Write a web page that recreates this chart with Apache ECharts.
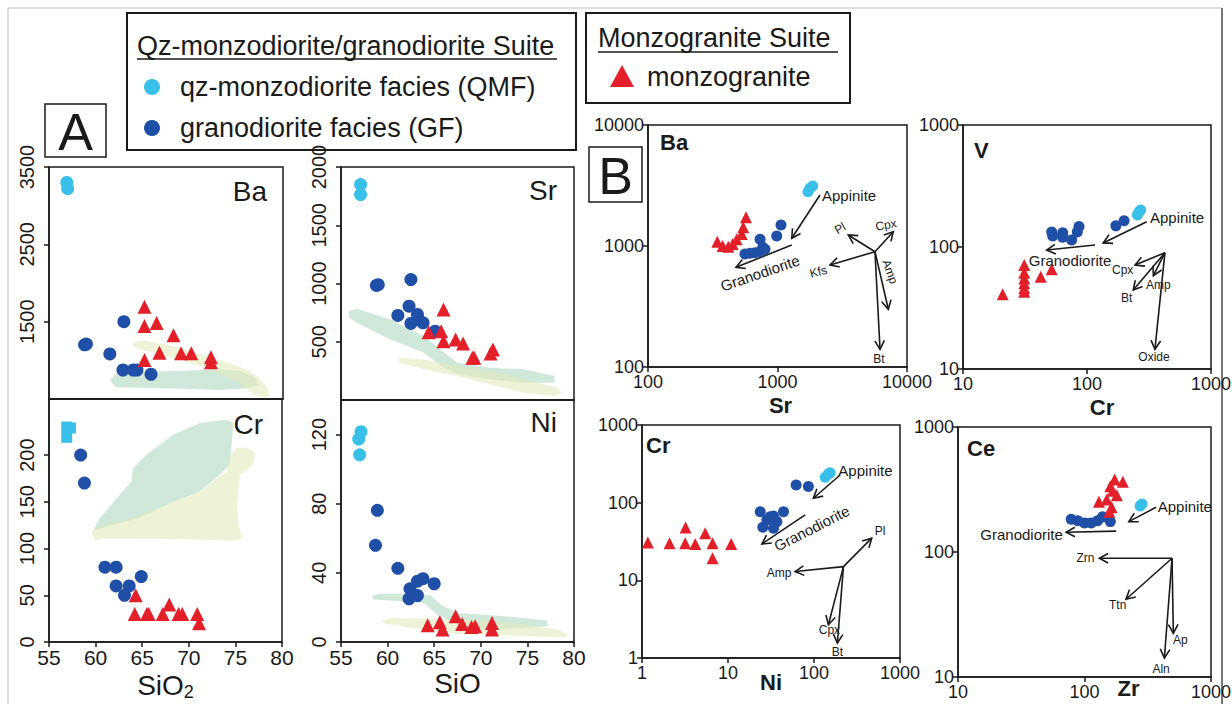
<!DOCTYPE html>
<html><head><meta charset="utf-8">
<script src="https://cdn.jsdelivr.net/npm/echarts@6/dist/echarts.min.js"></script>
<style>html,body{margin:0;padding:0;background:#fff}#c{width:1232px;height:704px}</style>
</head><body><div id="c"></div>
<script>
// ---------- DATA ----------
// Panel A : SiO2 (wt%) vs trace elements (ppm)
const baQMF = [[56.9,3300],[57.0,3220]];
const baGF  = [[58.8,1200],[59.0,1211],[63.0,1500],[61.5,1082],[62.9,875],[64.0,875],[64.4,875],[65.9,820]];
const baMZ  = [[65.2,1694],[65.2,1444],[66.5,1483],[68.3,1324],[66.8,1099],[65.2,1004],[69.1,1091],[70.2,1091],[72.3,1040],[72.3,975]];
const srQMF = [[57.1,1849],[57.1,1763]];
const srGF  = [[58.8,983],[59.0,990],[62.5,1034],[62.3,805],[61.1,726],[63.2,734],[63.3,691],[63.8,663],[62.5,657],[65.1,591]];
const srMZ  = [[66.0,777],[64.4,582],[65.75,591],[66.0,505],[67.3,520],[68.1,485],[69.1,363],[69.3,363],[71.05,400],[71.3,434]];
const crQMF = [[56.9,230],[57.3,229],[56.9,219]];
const crGF  = [[58.4,200],[58.8,170],[61.0,80],[62.2,80],[62.2,60],[63.6,60],[63.1,50],[64.9,70]];
const crMZ  = [[64.3,50],[64.2,30],[65.5,30],[65.7,30],[67.2,30],[67.9,40],[68.9,30],[69.3,30],[70.9,30],[71.1,20]];
const niQMF = [[57.15,121.7],[56.9,117.4],[57.0,108.3]];
const niGF  = [[58.9,76.2],[58.7,55.9],[61.1,42.6],[62.4,30.8],[62.3,25],[63.2,35.2],[63.8,36.6],[63.2,26.9],[65.0,33.7]];
const niMZ  = [[64.3,9.7],[65.6,11.4],[65.9,7.2],[67.3,14.9],[68.0,10.4],[69.0,8.7],[69.4,9.1],[71.2,11],[71.2,7.2]];

// comparison fields (outline vertices, data units)
const baFieldGreen  = [[61.5,746],[62.1,823],[65.8,853],[69.4,866],[73.0,884],[75.5,862],[77.1,767],[77.3,681],[76.2,638],[73.0,616],[69.4,634],[65.8,642],[62.1,651]];
const baFieldYellow = [[64.05,1229],[65.1,1255],[67.6,1198],[69.8,1134],[72.6,1026],[74.8,940],[76.2,875],[77.3,789],[78.4,638],[78.5,539],[78.0,522],[76.9,552],[75.5,703],[73.3,823],[71.2,927],[69.1,1005],[66.9,1082],[64.8,1143],[64.1,1177]];
const srFieldGreen  = [[55.8,762],[56.7,783],[60.3,691],[63.9,548],[65.7,434],[67.5,320],[71.05,277],[74.6,263],[77.9,206],[77.9,148],[74.6,148],[71.05,177],[67.5,220],[65.7,292],[63.9,406],[60.3,520],[56.7,663],[55.9,706]];
const srFieldYellow = [[61.2,342],[61.3,362],[63.9,348],[67.5,292],[71.05,249],[74.6,177],[78.2,106],[78.7,63],[77.9,34],[74.6,63],[71.05,134],[67.5,206],[63.9,263],[61.3,320]];
const crFieldGreen  = [[59.73,118.3],[60.45,132.6],[62.59,157.5],[63.85,171.8],[64.02,186.1],[65.46,200.3],[68.32,221.7],[71.19,234.2],[74.05,237.8],[74.76,234.2],[74.59,211],[74.41,189.6],[73.33,178.9],[71.19,161.1],[67.61,146.8],[64.74,132.6],[61.88,125.5],[60.09,120.1]];
const crFieldYellow = [[59.55,118.3],[60.45,123.7],[64.02,132.6],[67.61,146.8],[71.19,161.1],[74.05,182.5],[74.41,198.5],[75.12,207.5],[76.2,208.2],[77.1,202.1],[76.91,189.6],[75.48,178.9],[75.19,150.4],[75.3,129],[75.67,110.5],[74.76,108.3],[71.19,109.4],[67.61,110.2],[64.02,110.5],[60.45,110.5],[59.91,108.3]];
const niFieldGreen  = [[58.3,26.5],[58.9,27.9],[62.1,27.9],[64.6,27.1],[65.7,21.7],[67.5,16.8],[71.05,15.5],[74.6,13.9],[77.1,12.4],[77.2,9.1],[74.6,8.1],[71.05,7.2],[67.5,10.1],[65.3,15.9],[63.9,22.6],[60.3,24],[58.5,24.6]];
const niFieldYellow = [[59.4,12.4],[60.3,13.9],[63.9,13.5],[67.5,13],[71.05,12.4],[74.6,10.1],[78.2,7.2],[79.5,4.3],[79.0,2.7],[74.6,3.3],[71.05,4.3],[67.5,4.6],[63.9,7.2],[60.3,10.1],[59.5,11.0]];

// Panel B : log-log plots
const bsQMF = [[1780,3000],[1870,3130],[1720,2810]];
const bsGF  = [[561,859],[613,871],[670,881],[733,897],[800,939],[769,975],[733,1136],[986,1210],[1064,1492]];
const bsMZ  = [[343,1086],[377,1000],[417,987],[451,1040],[484,1136],[529,1257],[544,1428],[571,1727]];
const vcQMF = [[264,195],[255,183],[271,201]];
const vcGF  = [[171,149],[199,164],[51.9,133],[52.9,123],[63.7,131],[63.7,120],[75.2,114],[86.2,147],[83.5,133]];
const vcMZ  = [[31.2,71.2],[31.2,61.6],[31.2,55.3],[31.2,50.4],[31.2,45.8],[31.2,43],[20.9,40.9],[42.3,57.1],[51.9,65.6]];
const cnQMF = [[147,234],[135,212],[154,243]];
const cnGF  = [[62,169],[86.1,161],[23.7,76.6],[44.2,76.6],[33.8,67.5],[28.3,60],[37,57],[25.4,48.3],[33.8,46.9],[30.9,66]];
const cnMZ  = [[1.17,30.6],[2.09,30],[3.18,30],[3.21,48],[4.16,29.4],[5.43,40.4],[6.61,30],[6.61,19.3],[10.9,29.4]];
const czQMF = [[275,233],[285,242]];
const czGF  = [[78.5,183],[88.5,178],[100,171],[113,171],[127,178],[139,191],[156,186],[160,175]];
const czMZ  = [[173,380],[201,364],[160,336],[167,309],[180,285],[130,252],[150,263],[164,228],[157,210]];

// trend vectors [x1,y1,x2,y2]
const bsArrows = [[2128,2638,1288,1158],[1288,1019,478,667],[5660,897,3522,1233],[5660,897,7838,1313],[5660,897,2543,697],[5660,897,7175,300],[5660,897,6190,140]];
const vcArrows = [[303,161,135,108],[116,104,47.3,94.4],[425,89.8,244,71.2],[425,89.8,343,58.2],[425,89.8,236,44.4],[425,89.8,353,14.5]];
const cnArrows = [[201,227,98.4,114],[78.9,69.5,24.8,29.4],[220,15,469,34.9],[220,15,60.3,13],[220,15,147,2.68],[220,15,187,1.56]];
const czArrows = [[368,228,224,175],[178,147,71.6,144],[492,89.1,131,89.1],[492,89.1,213,41.9],[492,89.1,504,22.4],[492,89.1,428,14.2]];
// vector labels [x, y, text, align, rotation(deg), fontSize]
const bsLabels = [[2206,2590,'Appinite','left',0,15],[733,598,'Granodiorite','center',19,15],[3040,1400,'Pl','center',30,12],[6886,1492,'Cpx','center',10,12],[2066,613,'Kfs','center',15,12],[7390,613,'Amp','center',-70,12],[6080,116,'Bt','center',0,12]];
const vcLabels = [[322,176,'Appinite','left',0,15],[72.9,78.2,'Granodiorite','center',0,15],[194,64.7,'Cpx','center',0,12],[376,48.8,'Amp','center',0,12],[209,38.4,'Bt','center',0,12],[347,12.5,'Oxide','center',0,12]];
const cnLabels = [[192,258,'Appinite','left',0,15],[94.2,46.9,'Granodiorite','center',27,15],[586,43.3,'Pl','center',0,12],[39.3,12.6,'Amp','center',0,12],[151,2.31,'Cpx','center',0,12],[187,1.19,'Bt','center',0,12]];
const czLabels = [[379,230,'Appinite','left',0,15],[67.4,139,'Granodiorite','right',0,15],[120,89.1,'Zrn','right',0,12],[183,37.8,'Ttn','center',0,12],[573,19.6,'Ap','center',0,12],[403,11.6,'Aln','center',0,12]];

// tick labels
const sioTicks = [55,60,65,70,75,80];
const baTicks = [1000,1500,2500,3500];
const srTicks = [500,1000,1500,2000];
const crTicks = [0,50,100,150,200];
const niTicks = [0,40,80,120];

// ---------- STYLE ----------
const FONT = '"Liberation Sans", Arial, Helvetica, sans-serif';
const C_QMF = '#38c0e8', C_GF = '#1f4fa6', C_MZ = '#e3202a';
const C_GREEN = 'rgba(150,205,170,0.45)', C_YELLOW = 'rgba(226,233,188,0.6)';
const INK = '#1a1a1a';

const grids = [
  {left:49, top:167, width:234, height:232},   // A Ba
  {left:341, top:167, width:233, height:233},  // A Sr
  {left:49, top:399, width:233, height:243},   // A Cr
  {left:341, top:400, width:233, height:242},  // A Ni
  {left:648, top:125, width:259, height:242},  // B Ba-Sr
  {left:963, top:125, width:248, height:244},  // B V-Cr
  {left:642, top:425, width:258, height:233},  // B Cr-Ni
  {left:958, top:427, width:253, height:250}   // B Ce-Zr
].map(g => Object.assign({show:true, borderColor:INK, borderWidth:1.5, backgroundColor:'transparent', containLabel:false, outerBoundsMode:'none'}, g));

const lineStyle = {show:true, lineStyle:{color:INK, width:1.5}};
const tickStyle = {show:true, inside:false, length:5, lineStyle:{color:INK, width:1.5}};

function linX(gi, show, name){
  const ax = {type:'value', gridIndex:gi, min:55, max:80, interval:5, axisLine:lineStyle, splitLine:{show:false},
    axisTick: show ? Object.assign({customValues:sioTicks}, tickStyle) : {show:false},
    axisLabel: show ? {show:true, customValues:sioTicks, fontSize:21, color:INK, fontFamily:FONT, margin:5, formatter:v=>String(v)} : {show:false}};
  if (name) { ax.name = name; ax.nameLocation='middle'; ax.nameGap=27; ax.nameMoveOverlap=false;
    ax.nameTextStyle = {fontSize:28, color:INK, fontFamily:FONT, rich:{n:{fontSize:28, fontFamily:FONT, color:INK}, s:{fontSize:18, fontFamily:FONT, color:INK, padding:[14,0,0,0]}}}; }
  return ax;
}
function linY(gi, min, max, ticks){
  return {type:'value', gridIndex:gi, min, max, axisLine:lineStyle, splitLine:{show:false},
    axisTick:Object.assign({customValues:ticks}, tickStyle),
    axisLabel:{show:true, customValues:ticks, rotate:90, fontSize:20, color:INK, fontFamily:FONT, margin:12, formatter:v=>String(v)}};
}
function logAx(gi, min, max, isX, name, gap, padL, nameSize){
  const ax = {type:'log', logBase:10, gridIndex:gi, min, max, axisLine:lineStyle, splitLine:{show:false}, minorTick:{show:false},
    axisTick:tickStyle,
    axisLabel:{show:true, fontSize:isX?18:18, color:INK, fontFamily:FONT, margin:isX?6:4, formatter:v=>String(Math.round(v))}};
  if (name){ ax.name=name; ax.nameLocation='middle'; ax.nameGap=gap; ax.nameMoveOverlap=false;
    ax.nameTextStyle={fontSize:nameSize||23, fontWeight:'bold', color:INK, fontFamily:FONT, padding:[0,0,0,padL||0]}; }
  return ax;
}

const xAxis = [
  linX(0,false), linX(1,false), linX(2,true,'{n|SiO}{s|2}'), linX(3,true,'SiO'),
  logAx(4,100,10000,true,'Sr',27,6,22), logAx(5,10,1000,true,'Cr',27,30,22), logAx(6,1,1000,true,'Ni',13,0,22), logAx(7,10,1000,true,'Zr',0,88,22)
];
const yAxis = [
  linY(0,500,3500,baTicks), linY(1,0,2000,srTicks), linY(2,0,260,crTicks), linY(3,0,140,niTicks),
  logAx(4,100,10000,false), logAx(5,10,1000,false), logAx(6,1,1000,false), logAx(7,10,1000,false)
];

function sc(gi, data, color, symbol, size){
  return {type:'scatter', xAxisIndex:gi, yAxisIndex:gi, data, symbol, symbolSize:size,
    itemStyle:{color, opacity:1}, z:5, silent:true, animation:false};
}
function fields(gi, polys, colors){
  return {type:'custom', xAxisIndex:gi, yAxisIndex:gi, z:1, silent:true, animation:false, clip:false,
    data: polys.map(p => p[0]),
    renderItem:(params, api) => ({type:'polygon', shape:{points: polys[params.dataIndex].map(v => api.coord(v))},
      style:{fill: colors[params.dataIndex], stroke:null}})};
}
function arrows(gi, list){
  return {type:'custom', xAxisIndex:gi, yAxisIndex:gi, z:4, silent:true, animation:false, clip:false,
    data: list.map(a => [a[0], a[1]]),
    renderItem:(params, api) => {
      const a = list[params.dataIndex];
      const p1 = api.coord([a[0], a[1]]), p2 = api.coord([a[2], a[3]]);
      const ang = Math.atan2(p2[1]-p1[1], p2[0]-p1[0]);
      const L = 10, w = 0.5;
      const h1 = [p2[0]-L*Math.cos(ang-w), p2[1]-L*Math.sin(ang-w)];
      const h2 = [p2[0]-L*Math.cos(ang+w), p2[1]-L*Math.sin(ang+w)];
      return {type:'group', children:[
        {type:'line', shape:{x1:p1[0], y1:p1[1], x2:p2[0], y2:p2[1]}, style:{stroke:INK, lineWidth:1.6}},
        {type:'polyline', shape:{points:[h1, p2, h2]}, style:{stroke:INK, fill:null, lineWidth:1.6}}
      ]};
    }};
}
function labels(gi, list){
  return {type:'custom', xAxisIndex:gi, yAxisIndex:gi, z:6, silent:true, animation:false, clip:false,
    data: list.map(l => [l[0], l[1]]),
    renderItem:(params, api) => {
      const l = list[params.dataIndex];
      const p = api.coord([l[0], l[1]]);
      return {type:'text', x:p[0], y:p[1], rotation:l[4]*Math.PI/180,
        style:{text:l[2], fill:INK, fontSize:l[5], fontFamily:FONT, align:l[3], verticalAlign:'middle'}};
    }};
}

const series = [
  fields(0,[baFieldGreen, baFieldYellow],[C_GREEN, C_YELLOW]),
  fields(1,[srFieldGreen, srFieldYellow],[C_GREEN, C_YELLOW]),
  fields(2,[crFieldGreen, crFieldYellow],[C_GREEN, C_YELLOW]),
  fields(3,[niFieldGreen, niFieldYellow],[C_GREEN, C_YELLOW]),
  sc(0,baQMF,C_QMF,'circle',13), sc(0,baGF,C_GF,'circle',13), sc(0,baMZ,C_MZ,'triangle',14),
  sc(1,srQMF,C_QMF,'circle',13), sc(1,srGF,C_GF,'circle',13), sc(1,srMZ,C_MZ,'triangle',14),
  sc(2,crQMF,C_QMF,'rect',11), sc(2,crGF,C_GF,'circle',13), sc(2,crMZ,C_MZ,'triangle',14),
  sc(3,niQMF,C_QMF,'circle',13), sc(3,niGF,C_GF,'circle',13), sc(3,niMZ,C_MZ,'triangle',14),
  sc(4,bsQMF,C_QMF,'circle',11), sc(4,bsGF,C_GF,'circle',11), sc(4,bsMZ,C_MZ,'triangle',12),
  sc(5,vcQMF,C_QMF,'circle',11), sc(5,vcGF,C_GF,'circle',11), sc(5,vcMZ,C_MZ,'triangle',12),
  sc(6,cnQMF,C_QMF,'circle',11), sc(6,cnGF,C_GF,'circle',11), sc(6,cnMZ,C_MZ,'triangle',12),
  sc(7,czQMF,C_QMF,'circle',11), sc(7,czGF,C_GF,'circle',11), sc(7,czMZ,C_MZ,'triangle',12),
  arrows(4,bsArrows), arrows(5,vcArrows), arrows(6,cnArrows), arrows(7,czArrows),
  labels(4,bsLabels), labels(5,vcLabels), labels(6,cnLabels), labels(7,czLabels)
];

function ttl(text, pos, size, bold){
  return Object.assign({text, padding:0, textStyle:{fontSize:size, fontWeight:bold?'bold':'normal', color:INK, fontFamily:FONT}}, pos);
}
const title = [
  ttl('Ba',{right:965, top:177},28), ttl('Sr',{right:675, top:176},28),
  ttl('Cr',{right:969, top:410},28), ttl('Ni',{right:675, top:408},28),
  ttl('Ba',{left:660, top:131},22,true), ttl('V',{left:974, top:139},22,true),
  ttl('Cr',{left:646, top:434},22,true), ttl('Ce',{left:967, top:437},22,true)
];

function gtext(x, y, text, size, align){
  return {type:'text', x, y, style:{text, fontSize:size, fontFamily:FONT, fill:INK, align:align||'left', verticalAlign:'middle'}};
}
const graphic = [
  {type:'rect', shape:{x:8, y:8, width:1214, height:720}, style:{fill:null, stroke:'#bdbdbd', lineWidth:1}},
  {type:'line', shape:{x1:1222, y1:8, x2:1222, y2:704}, style:{stroke:'#555', lineWidth:1.5}},
  // legend 1
  {type:'rect', shape:{x:127, y:13, width:449, height:137}, style:{fill:'#fff', stroke:INK, lineWidth:2}},
  gtext(137, 46, 'Qz-monzodiorite/granodiorite Suite', 27),
  {type:'line', shape:{x1:137, y1:59, x2:557, y2:59}, style:{stroke:INK, lineWidth:1.5}},
  {type:'circle', shape:{cx:152, cy:87, r:8}, style:{fill:C_QMF}},
  gtext(180, 87, 'qz-monzodiorite facies (QMF)', 27),
  {type:'circle', shape:{cx:152, cy:128, r:8}, style:{fill:C_GF}},
  gtext(180, 128, 'granodiorite facies (GF)', 27),
  // legend 2
  {type:'rect', shape:{x:586, y:13, width:264, height:90}, style:{fill:'#fff', stroke:INK, lineWidth:2}},
  gtext(598, 38, 'Monzogranite Suite', 27),
  {type:'line', shape:{x1:598, y1:52, x2:838, y2:52}, style:{stroke:INK, lineWidth:1.5}},
  {type:'polygon', shape:{points:[[622,65],[610,87],[634,87]]}, style:{fill:C_MZ}},
  gtext(647, 77, 'monzogranite', 27),
  // panel letters
  {type:'rect', shape:{x:45, y:104, width:61, height:53}, style:{fill:'#fff', stroke:INK, lineWidth:1.5}},
  gtext(75.5, 132, 'A', 52, 'center'),
  {type:'rect', shape:{x:589, y:147, width:53, height:55}, style:{fill:'#fff', stroke:INK, lineWidth:1.5}},
  gtext(615.5, 176, 'B', 52, 'center')
];

const chart = echarts.init(document.getElementById('c'), null, {renderer:'svg', width:1232, height:704});
chart.setOption({backgroundColor:'#fff', animation:false, title, grid:grids, xAxis, yAxis, series, graphic});
</script></body></html>
